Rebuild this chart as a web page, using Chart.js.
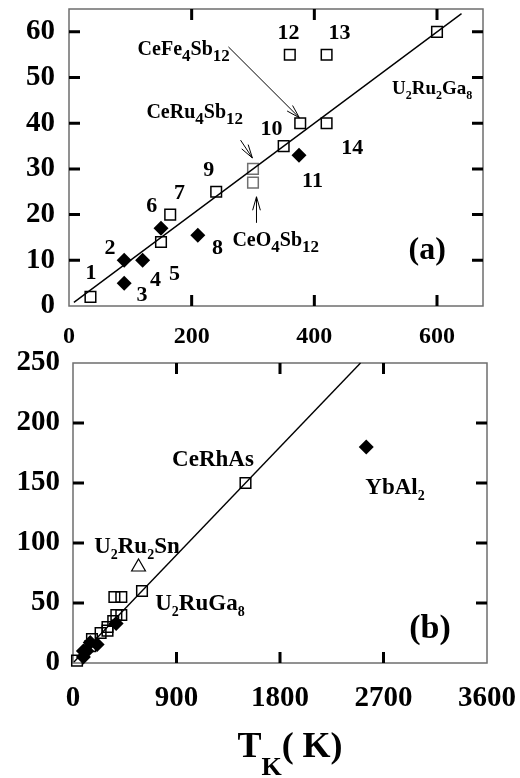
<!DOCTYPE html>
<html>
<head>
<meta charset="utf-8">
<script src="https://cdn.jsdelivr.net/npm/chart.js"></script>
<style>
  html, body { margin: 0; padding: 0; background: #fff; }
  #wrap { position: relative; width: 520px; height: 778px; overflow: hidden; }
  #wrap canvas { position: absolute; left: 0; }
  #chartA { top: 0; }
  #chartB { top: 340px; }
</style>
</head>
<body>
<div id="wrap">
  <canvas id="chartA" width="520" height="350"></canvas>
  <canvas id="chartB" width="520" height="438"></canvas>
</div>
<script>
// Open squares: T_K (K) vs coefficient
const sqNames = ['1', '5', '7', '9', 'CeRu4Sb12', 'CeOs4Sb12', '10', 'CeFe4Sb12', '14', '12', '13', 'U2Ru2Ga8'];
const sqTK = [35, 150, 165, 240, 300, 300, 350, 377, 420, 360, 420, 600];
const sqVal = [2, 14, 20, 25, 30, 27, 35, 40, 40, 55, 55, 60];

// Filled diamonds
const dmNames = ['2', '3', '4', '6', '8', '11'];
const dmTK = [90, 90, 120, 150, 210, 375];
const dmVal = [10, 5, 10, 17, 15.5, 33];

// Extra compounds shown only on the wide scale
const rhasTK = [1500];
const rhasVal = [150];
const yballTK = [2550];
const yballVal = [180];
const snTK = [570];
const snVal = [80];

// Linear fit
const fitTK_A = [8, 640];
const fitVal_A = [0.8, 64];
const fitTK_B = [8, 2500];
const fitVal_B = [0.8, 250];

// Axis ticks
const xTicksA = [0, 200, 400, 600];
const yTicksA = [0, 10, 20, 30, 40, 50, 60];
const xTicksB = [0, 900, 1800, 2700, 3600];
const yTicksB = [0, 50, 100, 150, 200, 250];

const SERIF = '"Liberation Serif", "Times New Roman", serif';

// text labels placed in data units: [text, T, value, size, subSize, subShift]
const labelsA = [
  ['1', 36, 7.4, 22], ['2', 67, 12.9, 22], ['3', 119, 2.6, 22], ['4', 141, 5.9, 22],
  ['5', 172, 7.2, 22], ['6', 135, 22.1, 22], ['7', 180, 25, 22], ['8', 242, 12.9, 22],
  ['9', 228, 30, 22], ['10', 330, 39, 22], ['11', 397, 27.6, 22], ['12', 358, 60, 22],
  ['13', 441, 60, 22], ['14', 462, 34.8, 22],
  ['CeFe_4Sb_12', 187, 56.3, 20, 17, 6],
  ['U_2Ru_2Ga_8', 592, 47.7, 19, 12, 5],
  ['CeRu_4Sb_12', 205, 42.5, 20, 17, 6],
  ['CeO_4Sb_12', 337, 14.5, 20, 17, 6],
  ['(a)', 584, 12.7, 32]
];
const arrowsA = [
  [260, 56.7, 375.6, 41.2],
  [279.7, 36.3, 299, 32.4],
  [305.7, 18.2, 305.7, 23.9]
];
const labelsB = [
  ['CeRhAs', 1217, 170.8, 23],
  ['YbAl_2', 2800, 147.5, 23, 14, 6],
  ['U_2Ru_2Sn', 556, 98.3, 23, 14, 6],
  ['U_2RuGa_8', 1104, 50.8, 23, 14, 6],
  ['(b)', 3104, 30, 34]
];

function drawRich(ctx, text, cx, base, size, subSize, subShift) {
  const parts = [];
  const re = /_([0-9]+|K)/g;
  let last = 0, m;
  while ((m = re.exec(text))) {
    if (m.index > last) parts.push({ s: text.slice(last, m.index), sub: false });
    parts.push({ s: m[1], sub: true });
    last = re.lastIndex;
  }
  if (last < text.length) parts.push({ s: text.slice(last), sub: false });
  const fontOf = p => 'bold ' + (p.sub ? subSize : size) + 'px ' + SERIF;
  let total = 0;
  parts.forEach(p => { ctx.font = fontOf(p); p.w = ctx.measureText(p.s).width; total += p.w; });
  let x = cx - total / 2;
  ctx.fillStyle = '#000';
  ctx.textAlign = 'left';
  ctx.textBaseline = 'alphabetic';
  parts.forEach(p => {
    ctx.font = fontOf(p);
    ctx.fillText(p.s, x, p.sub ? base + subShift : base);
    x += p.w;
  });
}

function drawArrow(ctx, x1, y1, x2, y2) {
  const ang = Math.atan2(y2 - y1, x2 - x1);
  const head = 14, spread = 0.28;
  ctx.beginPath();
  ctx.moveTo(x1, y1);
  ctx.lineTo(x2, y2);
  ctx.moveTo(x2 - head * Math.cos(ang - spread), y2 - head * Math.sin(ang - spread));
  ctx.lineTo(x2, y2);
  ctx.lineTo(x2 - head * Math.cos(ang + spread), y2 - head * Math.sin(ang + spread));
  ctx.stroke();
}

// box frame with inward tick marks on all four sides
const frameTicks = {
  id: 'frameTicks',
  beforeDatasetsDraw(chart) {
    const { ctx, chartArea: a, scales } = chart;
    ctx.save();
    ctx.strokeStyle = '#6e6e6e';
    ctx.lineWidth = 1.5;
    ctx.strokeRect(a.left, a.top, a.right - a.left, a.bottom - a.top);
    ctx.strokeStyle = '#000';
    ctx.lineWidth = 3;
    const len = 11;
    ctx.beginPath();
    scales.x.ticks.forEach(t => {
      if (t.value <= scales.x.min || t.value >= scales.x.max) return;
      const px = scales.x.getPixelForValue(t.value);
      ctx.moveTo(px, a.top); ctx.lineTo(px, a.top + len);
      ctx.moveTo(px, a.bottom); ctx.lineTo(px, a.bottom - len);
    });
    scales.y.ticks.forEach(t => {
      if (t.value <= scales.y.min || t.value >= scales.y.max) return;
      const py = scales.y.getPixelForValue(t.value);
      ctx.moveTo(a.left, py); ctx.lineTo(a.left + len, py);
      ctx.moveTo(a.right, py); ctx.lineTo(a.right - len, py);
    });
    ctx.stroke();
    ctx.restore();
  },
  afterDraw(chart, args, opts) {
    const { ctx, scales } = chart;
    ctx.save();
    (opts.labels || []).forEach(l => {
      const px = scales.x.getPixelForValue(l[1]);
      const py = scales.y.getPixelForValue(l[2]);
      drawRich(ctx, l[0], px, py + l[3] * 0.33, l[3], l[4] || l[3], l[5] || 0);
    });
    ctx.strokeStyle = '#000';
    ctx.lineWidth = 1;
    (opts.arrows || []).forEach(r => {
      drawArrow(ctx,
        scales.x.getPixelForValue(r[0]), scales.y.getPixelForValue(r[1]),
        scales.x.getPixelForValue(r[2]), scales.y.getPixelForValue(r[3]));
    });
    if (opts.title) {
      const a = chart.chartArea;
      drawRich(ctx, opts.title, (a.left + a.right) / 2 + 10, a.bottom + 94, 36, 26, 18);
    }
    ctx.restore();
  }
};

const toPts = (xs, ys) => xs.map((x, i) => ({ x: x, y: ys[i] }));

function squareSet(xs, ys, colors) {
  return {
    data: toPts(xs, ys), pointStyle: 'rect', pointRadius: 7.5,
    pointBorderColor: colors || '#000', pointBackgroundColor: 'rgba(0,0,0,0)',
    pointBorderWidth: 1.5, showLine: false, clip: false
  };
}
function diamondSet(xs, ys) {
  return {
    data: toPts(xs, ys), pointStyle: 'rectRot', pointRadius: 7.5,
    pointBorderColor: '#000', pointBackgroundColor: '#000',
    pointBorderWidth: 0, showLine: false, clip: false
  };
}
function fitSet(xs, ys) {
  return {
    data: toPts(xs, ys), showLine: true, borderColor: '#000', borderWidth: 1.4,
    pointRadius: 0, fill: false, clip: false
  };
}

function axis(min, max, ticks, padding, size, fontSize, horizontal) {
  return {
    type: 'linear', min: min, max: max,
    afterBuildTicks: s => { s.ticks = ticks.map(v => ({ value: v })); },
    afterFit: s => {
      if (horizontal) { s.height = size; s.paddingLeft = 0; s.paddingRight = 0; }
      else { s.width = size; s.paddingTop = 0; s.paddingBottom = 0; }
    },
    ticks: {
      callback: v => String(v), color: '#000', padding: padding,
      autoSkip: false, maxRotation: 0, minRotation: 0,
      font: { family: SERIF, size: fontSize, weight: 'bold' }
    },
    grid: { display: false, drawTicks: false },
    border: { display: false }
  };
}

function makeChart(id, datasets, scales, padding, plugOpts) {
  return new Chart(document.getElementById(id), {
    type: 'scatter',
    data: { datasets: datasets },
    options: {
      responsive: false, animation: false,
      layout: { padding: padding },
      scales: scales,
      plugins: { legend: { display: false }, tooltip: { enabled: false }, frameTicks: plugOpts }
    },
    plugins: [frameTicks]
  });
}

// gray outline for the two skutterudite points at 300 K
const sqColorsA = sqNames.map(n => (n === 'CeRu4Sb12' || n === 'CeOs4Sb12') ? '#707070' : '#000');

makeChart('chartA',
  [fitSet(fitTK_A, fitVal_A), squareSet(sqTK, sqVal, sqColorsA), diamondSet(dmTK, dmVal)],
  { x: axis(0, 675, xTicksA, 16, 44, 24, true), y: axis(0, 65, yTicksA, 14, 69, 29, false) },
  { left: 0, right: 37, top: 8, bottom: 0 },
  { labels: labelsA, arrows: arrowsA });

makeChart('chartB',
  [fitSet(fitTK_B, fitVal_B),
   squareSet(sqTK.concat(rhasTK), sqVal.concat(rhasVal)),
   diamondSet(dmTK.concat(yballTK), dmVal.concat(yballVal)),
   {
     data: toPts(snTK, snVal), pointStyle: 'triangle', pointRadius: 8,
     pointBorderColor: '#000', pointBackgroundColor: 'rgba(0,0,0,0)',
     pointBorderWidth: 1.2, showLine: false, clip: false
   }],
  { x: axis(0, 3600, xTicksB, 18, 115, 29, true), y: axis(0, 250, yTicksB, 13, 73, 29, false) },
  { left: 0, right: 33, top: 23, bottom: 0 },
  { labels: labelsB, title: 'T_K( K)' });
</script>
</body>
</html>
